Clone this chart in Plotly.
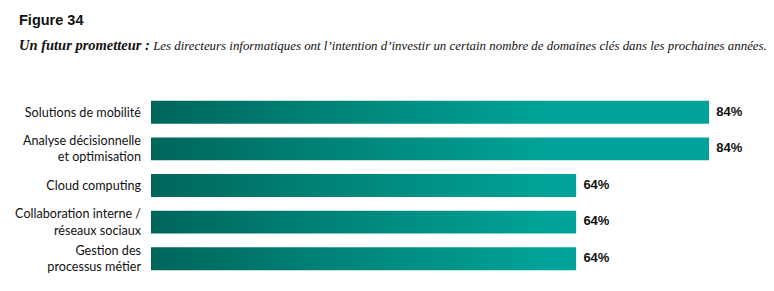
import plotly.graph_objects as go

categories = [
    "Solutions de mobilité",
    "Analyse décisionnelle<br>et optimisation",
    "Cloud computing",
    "Collaboration interne /<br>réseaux sociaux",
    "Gestion des<br>processus métier",
]
values = [84, 84, 64, 64, 64]
value_labels = ["84%", "84%", "64%", "64%", "64%"]

W, H = 774, 291
ML, MR, MT, MB = 151, 5, 94, 13.5
PW = W - ML - MR
PH = H - MT - MB
XMAX = 84 * PW / 558.0
half = 0.313

fig = go.Figure()
for i, v in enumerate(values):
    fig.add_trace(go.Scatter(
        x=[0, v, v, 0, 0],
        y=[i - half, i - half, i + half, i + half, i - half],
        mode="lines",
        line=dict(width=0),
        fill="toself",
        fillgradient=dict(
            type="horizontal",
            colorscale=[[0, "#00665a"], [0.45, "#008377"], [1, "#00a399"]],
            start=0,
            stop=60,
        ),
        hoverinfo="skip",
        showlegend=False,
    ))

fig.add_trace(go.Scatter(
    x=values,
    y=list(range(len(values))),
    mode="markers+text",
    marker=dict(size=10, color="rgba(0,0,0,0)"),
    text=value_labels,
    textposition="middle right",
    textfont=dict(family="Liberation Sans", size=13, color="#111111", weight="bold"),
    showlegend=False,
    hoverinfo="skip",
))

def px_x(p):
    return (p - ML) / PW

def px_y(p):
    return (H - MB - p) / PH

fig.update_layout(
    width=W, height=H,
    margin=dict(l=ML, r=MR, t=MT, b=MB),
    plot_bgcolor="white", paper_bgcolor="white",
    xaxis=dict(range=[0, XMAX], visible=False, fixedrange=True),
    yaxis=dict(
        range=[len(values) - 0.5, -0.5],
        tickmode="array",
        tickvals=list(range(len(values))),
        ticktext=categories,
        showgrid=False, zeroline=False, showline=False,
        ticks="", ticklabelstandoff=9,
        tickfont=dict(family="Lato", size=12.6, color="#111111"),
    ),
    annotations=[
        dict(xref="paper", yref="paper", x=px_x(17), y=px_y(20),
             xanchor="left", yanchor="middle", showarrow=False,
             text="<b>Figure 34</b>",
             font=dict(family="Liberation Sans", size=14.5, color="#111111")),
        dict(xref="paper", yref="paper", x=px_x(17), y=px_y(45),
             xanchor="left", yanchor="middle", showarrow=False,
             text="<i><b><span style='font-size:14.5px'>Un futur prometteur :</span></b> Les directeurs informatiques ont l’intention d’investir un certain nombre de domaines clés dans les prochaines années.</i>",
             font=dict(family="Liberation Serif", size=12.9, color="#111111")),
    ],
)

fig.write_html("out.html")
